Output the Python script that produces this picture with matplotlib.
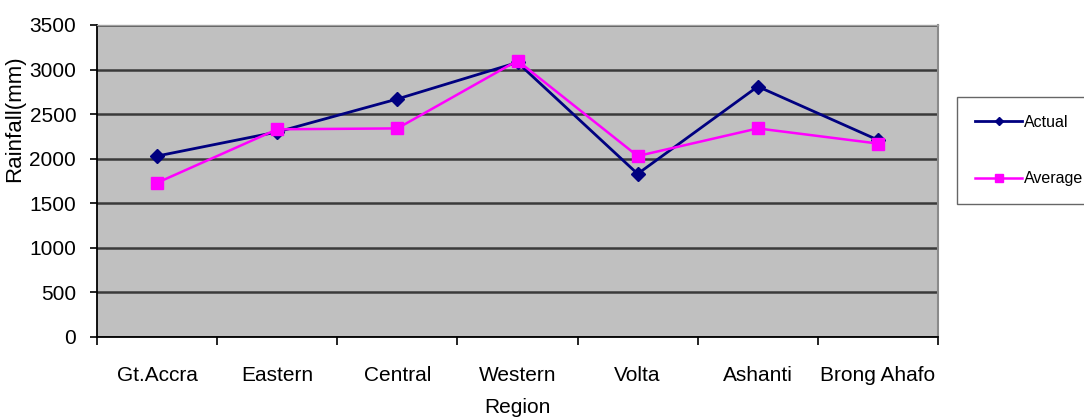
import matplotlib
matplotlib.use("Agg")
import matplotlib.pyplot as plt
import numpy as np

regions = ["Gt.Accra", "Eastern", "Central", "Western", "Volta", "Ashanti", "Brong Ahafo"]
actual = [2030, 2300, 2670, 3080, 1830, 2810, 2210]
average = [1730, 2330, 2340, 3100, 2030, 2340, 2170]
yticks = [0, 500, 1000, 1500, 2000, 2500, 3000, 3500]

plt.rcParams['font.family'] = ['Liberation Sans', 'DejaVu Sans']

fig = plt.figure(figsize=(10.84, 4.17), dpi=100)
ax = fig.add_axes([97/1084, 1-337/417, (938-97)/1084, (337-25)/417])
ax.set_facecolor('#C0C0C0')

x = np.arange(len(regions))
ax.plot(x, actual, color='#000080', lw=2.0, marker='D', ms=7, label='Actual', zorder=3)
ax.plot(x, average, color='#FF00FF', lw=1.8, marker='s', ms=9, label='Average', zorder=3)

ax.set_xlim(-0.5, len(regions)-0.5)
ax.set_ylim(0, 3500)
ax.set_yticks(yticks)
ax.set_yticklabels([str(v) for v in yticks], fontsize=15)
ax.yaxis.grid(True, color='#3a3a3a', lw=1.8)
ax.set_axisbelow(True)

ax.set_xticks(x)
ax.set_xticklabels(regions, fontsize=15)
ax.set_xticks(np.arange(len(regions)+1)-0.5, minor=True)
ax.tick_params(axis='x', which='major', length=0, pad=21)
ax.tick_params(axis='x', which='minor', length=6, width=1.2, direction='out', color='black')
ax.tick_params(axis='y', length=5, width=1.2, direction='out', pad=10)

for s in ['left', 'bottom']:
    ax.spines[s].set_color('black')
    ax.spines[s].set_linewidth(1.3)
ax.spines['right'].set_color('#8a8a8a')
ax.spines['top'].set_color('#a0a0a0')
ax.spines['right'].set_linewidth(1.5)
ax.spines['top'].set_linewidth(1.0)

ax.set_ylabel('Rainfall(mm)', fontsize=16)
ax.yaxis.set_label_coords(-0.086, 0.70)
ax.set_xlabel('Region', fontsize=15, labelpad=9)

leg = fig.legend(loc='upper left', bbox_to_anchor=(957/1084, 1-97/417), fontsize=11.5,
                 frameon=True, fancybox=False, edgecolor='#404040', labelspacing=2.6,
                 handlelength=3.0, borderpad=1.1, borderaxespad=0, handletextpad=0.1,
                 markerscale=0.6)
leg.get_frame().set_linewidth(1.0)

fig.savefig('out.png', dpi=100)
